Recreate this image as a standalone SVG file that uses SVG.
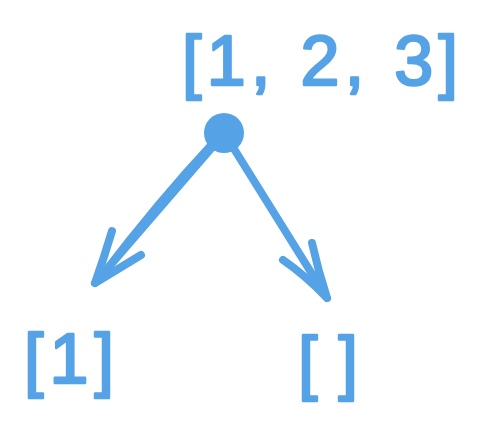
<svg xmlns="http://www.w3.org/2000/svg" width="485" height="430" viewBox="0 0 485 430">
<style>
.t{font-family:"Liberation Sans",Arial,sans-serif;font-size:70px;fill:#55a3e6;stroke:#55a3e6;stroke-width:2.5;stroke-linejoin:round}
.l{fill:none;stroke:#55a3e6;stroke-width:8;stroke-linecap:round;stroke-linejoin:round}
</style>
<rect width="485" height="430" fill="#ffffff"/>
<g id="connectors">
<path class="l" d="M222 136 L95 283"/>
<path class="l" d="M215 141 Q158 202 101 277" stroke-width="6"/>
<path class="l" d="M112 231 Q104 258 95 283 L141 255"/>
<path class="l" d="M226 136 L327 298"/>
<path class="l" d="M312 243 Q318 270 327 298 Q305 275 283 260"/>
</g>
<g id="root">
<circle cx="224" cy="133" r="20" fill="#55a3e6"/>
<text class="t" x="182" y="85" textLength="276" lengthAdjust="spacing">[1, 2, 3]</text>
</g>
<g id="left">
<text class="t" x="24" y="383" textLength="90" lengthAdjust="spacing">[1]</text>
</g>
<g id="right">
<text class="t" x="298" y="386" textLength="60" lengthAdjust="spacing">[]</text>
</g>
</svg>
